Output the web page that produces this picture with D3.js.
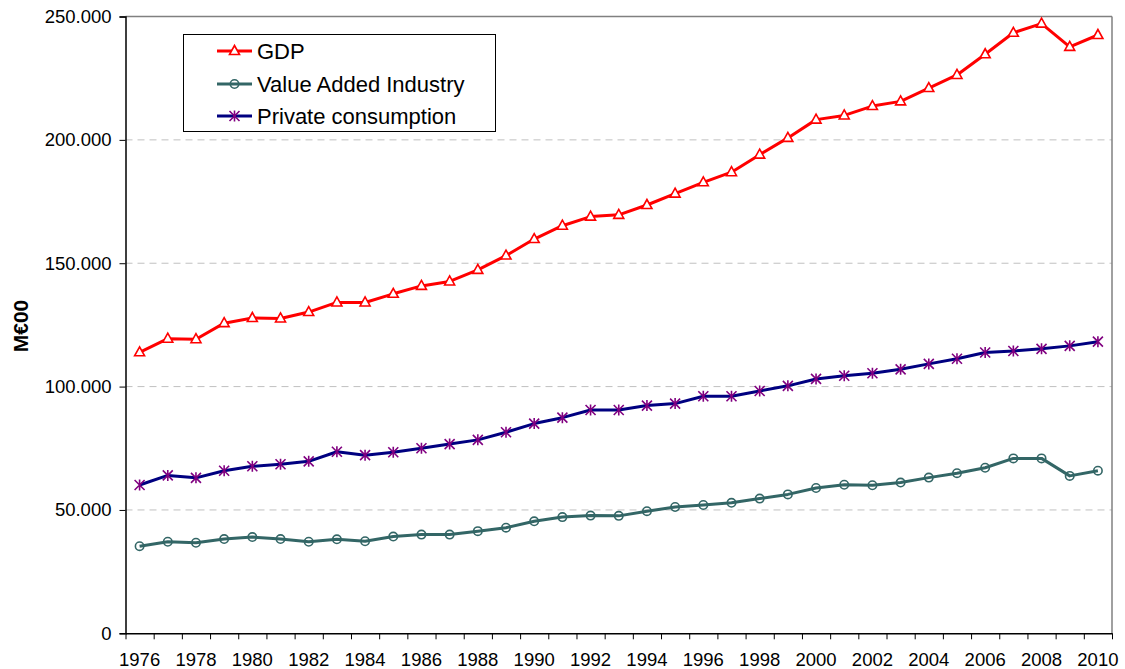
<!DOCTYPE html>
<html><head><meta charset="utf-8">
<script src="https://cdn.jsdelivr.net/npm/d3@7"></script>
<style>
body{margin:0;background:#fff;}
svg{display:block;font-family:"Liberation Sans",Arial,sans-serif;}
</style></head>
<body>
<svg id="chart" width="1125" height="669"></svg>
<script>
const years = d3.range(1976, 2011);
const labelYears = years.filter(y => y % 2 === 0);
const yTicks = [0, 50000, 100000, 150000, 200000, 250000];
const seriesNames = ["GDP", "Value Added Industry", "Private consumption"];
const gdp = [113900,119400,119200,125700,127800,127600,130200,134100,134100,137600,140800,142600,147300,153100,159800,165200,168900,169600,173600,178200,182800,186900,194000,200800,208200,209900,213700,215600,221000,226300,234700,243400,247100,237700,242500];
const vai = [35300,37100,36700,38200,39000,38200,37100,38100,37300,39200,40000,40000,41400,42800,45400,47100,47700,47600,49500,51200,52000,52900,54600,56300,58900,60200,60000,61100,63100,64900,67100,70900,70900,63800,65900];
const pc = [60100,64000,63000,65900,67700,68500,69700,73600,72200,73400,75000,76700,78400,81500,85000,87400,90500,90500,92300,93100,96100,96100,98200,100300,103100,104400,105400,107000,109200,111300,113800,114400,115300,116500,118200];
const yTitle = "M€00";

const L = 125.5, R = 1112, T = 16.5, B = 633.3;
const svg = d3.select("#chart");
const x = d3.scaleBand().domain(years).range([L, R]).padding(0);
const xb = d3.scaleLinear().domain([0, years.length]).range([L, R]);
const y = d3.scaleLinear().domain([0, 250000]).range([B, T]);
const loc = d3.formatLocale({decimal: ",", thousands: ".", grouping: [3], currency: ["", "€"]});
const fmt = loc.format(",");

// gridlines
svg.append("g").selectAll("line").data(yTicks.filter(v => v > 0 && v < 250000)).join("line")
  .attr("x1", L).attr("x2", R).attr("y1", d => y(d)).attr("y2", d => y(d))
  .attr("stroke", "#c0c0c0").attr("stroke-width", 1).attr("stroke-dasharray", "7,5");
// top & right border
svg.append("line").attr("x1", L).attr("x2", R).attr("y1", y(250000)).attr("y2", y(250000)).attr("stroke", "#808080").attr("stroke-width", 1.5);
svg.append("line").attr("x1", R).attr("x2", R).attr("y1", T).attr("y2", B).attr("stroke", "#808080").attr("stroke-width", 1.5);

// y axis
const ya = svg.append("g").attr("transform", `translate(${L},0)`)
  .call(d3.axisLeft(y).tickValues(yTicks).tickFormat(fmt).tickSize(6).tickPadding(8));
ya.select(".domain").attr("stroke", "#000").attr("stroke-width", 1.5);
ya.selectAll(".tick line").attr("stroke", "#000");
ya.selectAll("text").attr("font-size", "18.5px").attr("fill", "#000").attr("font-family", "Liberation Sans, Arial, sans-serif");

// x axis ticks at boundaries
const xa = svg.append("g").attr("transform", `translate(0,${B})`)
  .call(d3.axisBottom(xb).tickValues(d3.range(0, years.length + 1)).tickFormat("").tickSize(6).tickSizeOuter(0));
xa.select(".domain").attr("stroke", "#000").attr("stroke-width", 1.5);
xa.selectAll(".tick line").attr("stroke", "#000");
// x labels
const xl = svg.append("g").attr("transform", `translate(0,${B})`)
  .call(d3.axisBottom(x).tickValues(labelYears).tickSize(0).tickPadding(20));
xl.select(".domain").remove();
xl.selectAll("text").attr("font-size", "18.5px").attr("fill", "#000").attr("font-family", "Liberation Sans, Arial, sans-serif");

// y title
svg.append("text").attr("transform", "translate(27.5,326) rotate(-90)")
  .attr("text-anchor", "middle").attr("font-size", "21px").attr("font-weight", "bold").text(yTitle);

const cx = d => x(d) + x.bandwidth() / 2;
const line = d3.line().x((d, i) => cx(years[i])).y(d => y(d));

const styles = [
  {data: gdp, color: "#ff0000", marker: "tri"},
  {data: vai, color: "#336666", marker: "circ"},
  {data: pc, color: "#000080", marker: "star"}
];

function drawMarker(g, type, px, py) {
  if (type === "tri") {
    g.append("path").attr("d", `M${px},${py-5.5}L${px+5},${py+3.5}L${px-5},${py+3.5}Z`)
      .attr("fill", "#fff").attr("stroke", "#ff0000").attr("stroke-width", 1.6);
  } else if (type === "circ") {
    g.append("circle").attr("cx", px).attr("cy", py).attr("r", 4.2)
      .attr("fill", "none").attr("stroke", "#336666").attr("stroke-width", 1.6);
  } else {
    const s = 5;
    g.append("path").attr("d", `M${px-s},${py-s}L${px+s},${py+s}M${px-s},${py+s}L${px+s},${py-s}M${px},${py-s-0.5}L${px},${py+s+0.5}`)
      .attr("stroke", "#800080").attr("stroke-width", 1.6).attr("fill", "none");
  }
}

styles.forEach(s => {
  svg.append("path").datum(s.data).attr("d", line).attr("fill", "none")
    .attr("stroke", s.color).attr("stroke-width", 3).attr("stroke-linejoin", "round");
  const g = svg.append("g");
  s.data.forEach((v, i) => drawMarker(g, s.marker, cx(years[i]), y(v)));
});

// legend
const lg = svg.append("g");
lg.append("rect").attr("x", 183.5).attr("y", 34.5).attr("width", 312).attr("height", 97)
  .attr("fill", "#fff").attr("stroke", "#000").attr("stroke-width", 1);
const rowsY = [51, 84, 116];
styles.forEach((s, i) => {
  const ry = rowsY[i];
  lg.append("line").attr("x1", 217).attr("x2", 252).attr("y1", ry).attr("y2", ry)
    .attr("stroke", s.color).attr("stroke-width", 3);
  drawMarker(lg, s.marker, 234.5, ry);
  lg.append("text").attr("x", 257).attr("y", ry).attr("dy", "0.35em")
    .attr("font-size", "22px").attr("fill", "#000").text(seriesNames[i]);
});
</script>
</body></html>
